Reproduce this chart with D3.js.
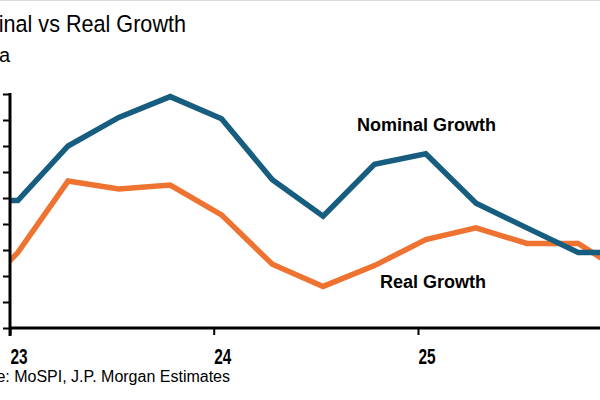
<!DOCTYPE html>
<html>
<head>
<meta charset="utf-8">
<script src="https://cdn.jsdelivr.net/npm/d3@7"></script>
<style>
  body { margin: 0; background: #fff; }
  #chart { width: 600px; height: 400px; overflow: hidden; }
</style>
</head>
<body>
<div id="chart"></div>
<script>
// quarterly readings, %oya
const quarters = ["2022-10-15", "2023-01-15", "2023-04-15", "2023-07-15", "2023-10-15",
    "2024-01-15", "2024-04-15", "2024-07-15", "2024-10-15", "2025-01-15",
    "2025-04-15", "2025-07-15", "2025-10-15", "2026-01-15"]
const nominal = [8.9, 8.9, 11.0, 12.1, 12.9, 12.05, 9.7, 8.3, 10.3, 10.7, 8.8, 7.85, 6.9, 6.9]
const real = [4.9, 6.9, 9.65, 9.35, 9.5, 8.35, 6.45, 5.6, 6.4, 7.4, 7.85, 7.25, 7.25, 6.0]
const yearTicks = ["2023-01-01", "2024-01-01", "2025-01-01"]
const yearLabels = ["23", "24", "25"]
const yTicks = [4, 5, 6, 7, 8, 9, 10, 11, 12, 13]

function drawChart() {
    width = 600
    height = 400

    const parse = d3.timeParse("%Y-%m-%d")
    const dates = quarters.map(parse)
    const tickDates = yearTicks.map(parse)

    var x = d3.scaleTime()
        .domain([tickDates[0], tickDates[2]])
        .range([10, 418])

    var y = d3.scaleLinear()
        .domain([4, 13])
        .range([328, 94])

    const svg = d3.select('#chart')
        .append('svg')
        .attr("width", width)
        .attr("height", height)
        .style("font-family", "'Liberation Sans', Arial, sans-serif");

    svg.append("line")
        .attr("x1", 0).attr("x2", width)
        .attr("y1", 0.5).attr("y2", 0.5)
        .attr("stroke", "#dcdcdc");

    svg.append("clipPath")
        .attr("id", "plot")
        .append("rect")
        .attr("x", x(tickDates[0]))
        .attr("y", 0)
        .attr("width", width)
        .attr("height", y(4));

    // title bits, the left side is cut off in the original
    svg.append("text")
        .attr("x", 186 / 0.92).attr("y", 32)
        .attr("text-anchor", "end")
        .attr("transform", "scale(0.92,1)")
        .style("font-size", "23.5px")
        .text("Nominal vs Real Growth");

    svg.append("text")
        .attr("x", 10).attr("y", 62)
        .attr("text-anchor", "end")
        .style("font-size", "20px")
        .text("%oya");

    const line = d3.line()
        .x((d, i) => x(dates[i]))
        .y(d => y(d));

    const lines = svg.append("g").attr("clip-path", "url(#plot)");

    lines.append("path")
        .datum(real)
        .attr("fill", "none")
        .attr("stroke", "#ee7330")
        .attr("stroke-width", 5.5)
        .attr("stroke-linejoin", "miter")
        .attr("d", line);

    lines.append("path")
        .datum(nominal)
        .attr("fill", "none")
        .attr("stroke", "#175d7f")
        .attr("stroke-width", 5.5)
        .attr("stroke-linejoin", "miter")
        .attr("d", line);

    // axes
    const yAxis = svg.append("g")
        .attr("transform", `translate(${x(tickDates[0])},0)`)
        .call(d3.axisLeft(y).tickValues(yTicks).tickSize(7).tickFormat(""));
    yAxis.select(".domain").remove();
    yAxis.selectAll(".tick line").attr("stroke", "#000").attr("stroke-width", 2);

    svg.append("line")
        .attr("x1", x(tickDates[0])).attr("x2", x(tickDates[0]))
        .attr("y1", y(13) - 1).attr("y2", y(4) + 8)
        .attr("stroke", "#000").attr("stroke-width", 3);

    const xAxis = svg.append("g")
        .attr("transform", `translate(0,${y(4)})`)
        .call(d3.axisBottom(x).tickValues(tickDates).tickSize(7).tickFormat((d, i) => yearLabels[i]));
    xAxis.select(".domain").remove();
    xAxis.selectAll(".tick line").attr("stroke", "#000").attr("stroke-width", 2);
    xAxis.selectAll(".tick text")
        .attr("text-anchor", "start")
        .attr("x", 0).attr("y", 0).attr("dy", 0)
        .attr("transform", "translate(0,36) scale(0.7,1)")
        .attr("fill", "#000")
        .style("font-family", "'Liberation Sans', Arial, sans-serif")
        .style("font-size", "22px")
        .style("font-weight", "bold");

    svg.append("line")
        .attr("x1", x(tickDates[0])).attr("x2", width)
        .attr("y1", y(4)).attr("y2", y(4))
        .attr("stroke", "#000").attr("stroke-width", 3);

    // series labels
    svg.append("text")
        .attr("x", 357).attr("y", 131)
        .style("font-size", "18px")
        .style("font-weight", "bold")
        .text("Nominal Growth");

    svg.append("text")
        .attr("x", 380).attr("y", 288)
        .style("font-size", "18px")
        .style("font-weight", "bold")
        .text("Real Growth");

    svg.append("text")
        .attr("x", 230).attr("y", 382)
        .attr("text-anchor", "end")
        .style("font-size", "16px")
        .text("Source: MoSPI, J.P. Morgan Estimates");

    return svg.node();
}

drawChart()
</script>
</body>
</html>
